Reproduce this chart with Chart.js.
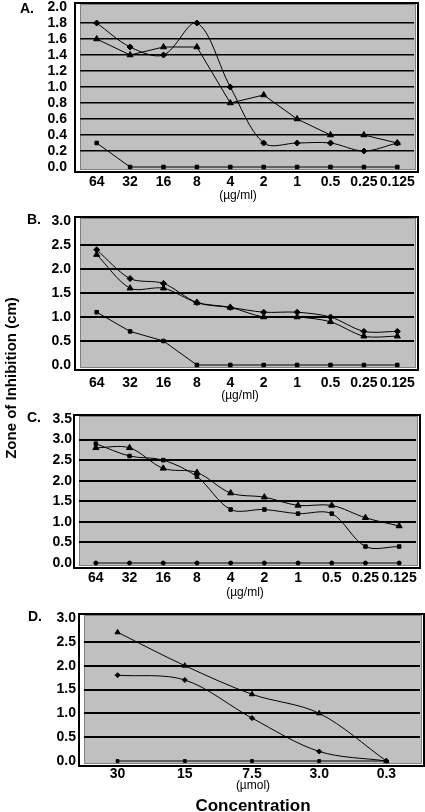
<!DOCTYPE html>
<html>
<head>
<meta charset="utf-8">
<script src="https://cdn.jsdelivr.net/npm/chart.js@4.4.0/dist/chart.umd.min.js"></script>
<style>
  html, body { margin: 0; padding: 0; background: #fff; }
  body { position: relative; width: 425px; height: 812px; overflow: hidden; font-family: "Liberation Sans", Arial, sans-serif; }
  canvas { position: absolute; left: 0; }
  .t { position: absolute; color: #000; white-space: nowrap; line-height: 1; transform: translate(-50%, -50%); }
  .b { font-weight: bold; }
  .lbl { position: absolute; font-weight: bold; font-size: 14px; line-height: 1; transform: translateY(-50%); }
</style>
</head>
<body>
<canvas id="chartA" width="425" height="200" style="top:0px"></canvas>
<canvas id="chartB" width="425" height="200" style="top:200px"></canvas>
<canvas id="chartC" width="425" height="200" style="top:400px"></canvas>
<canvas id="chartD" width="425" height="212" style="top:600px"></canvas>

<div class="lbl" style="left:20px;top:8px">A.</div>
<div class="lbl" style="left:27px;top:219px">B.</div>
<div class="lbl" style="left:27px;top:417px">C.</div>
<div class="lbl" style="left:28px;top:616px">D.</div>
<div class="t" style="left:238px;top:195px;font-size:12px">(µg/ml)</div>
<div class="t" style="left:240px;top:395px;font-size:12px">(µg/ml)</div>
<div class="t" style="left:245px;top:592px;font-size:12px">(µg/ml)</div>
<div class="t" style="left:253px;top:785px;font-size:12px">(µmol)</div>
<div class="t b" style="left:253px;top:805px;font-size:17px">Concentration</div>
<div class="t b" style="left:10px;top:378px;font-size:15px;transform:translate(-50%,-50%) rotate(-90deg)">Zone of Inhibition (cm)</div>

<script>
// x categories
var doseLabels = ["64", "32", "16", "8", "4", "2", "1", "0.5", "0.25", "0.125"];
var molLabels = ["30", "15", "7.5", "3.0", "0.3"];

// panel A
var aDiamond = [1.8, 1.5, 1.4, 1.8, 1.0, 0.3, 0.3, 0.3, 0.2, 0.3];
var aTriangle = [1.6, 1.4, 1.5, 1.5, 0.8, 0.9, 0.6, 0.4, 0.4, 0.3];
var aSquare = [0.3, 0, 0, 0, 0, 0, 0, 0, 0, 0];

// panel B
var bDiamond = [2.4, 1.8, 1.7, 1.3, 1.2, 1.1, 1.1, 1.0, 0.7, 0.7];
var bTriangle = [2.3, 1.6, 1.6, 1.3, 1.2, 1.0, 1.0, 0.9, 0.6, 0.6];
var bSquare = [1.1, 0.7, 0.5, 0, 0, 0, 0, 0, 0, 0];

// panel C
var cSquare = [2.9, 2.6, 2.5, 2.1, 1.3, 1.3, 1.2, 1.2, 0.4, 0.4];
var cTriangle = [2.8, 2.8, 2.3, 2.2, 1.7, 1.6, 1.4, 1.4, 1.1, 0.9];
var cZero = [0, 0, 0, 0, 0, 0, 0, 0, 0, 0];

// panel D
var dTriangle = [2.7, 2.0, 1.4, 1.0, 0];
var dDiamond = [1.8, 1.7, 0.9, 0.2, 0];
var dZero = [0, 0, 0, 0, 0];

var FONT = "'Liberation Sans', Arial, sans-serif";

// grey plot box with a black outer frame
var framePlugin = {
  id: 'frame',
  beforeDraw: function (chart) {
    var a = chart.chartArea, c = chart.ctx;
    c.save();
    c.fillStyle = '#c0c0c0';
    c.fillRect(a.left + 1, a.top - 2, a.right - a.left, a.bottom - a.top + 4);
    c.strokeStyle = '#808080';
    c.lineWidth = 1;
    c.strokeRect(a.left + 0.5, a.top - 2.5, a.right - a.left + 1, a.bottom - a.top + 5);
    c.strokeStyle = '#000';
    c.lineWidth = 2;
    c.strokeRect(a.left - 5, a.top - 4, a.right - a.left + 9, a.bottom - a.top + 9);
    c.restore();
  }
};

function series(data, style, radius, tension) {
  return {
    data: data,
    borderColor: '#000',
    backgroundColor: '#000',
    borderWidth: 1,
    pointStyle: style,
    pointRadius: radius,
    pointBorderWidth: 1,
    tension: tension,
    clip: false
  };
}

function makeChart(id, p) {
  var canvas = document.getElementById(id);
  var top = parseInt(canvas.style.top, 10);
  var h = canvas.height;
  return new Chart(canvas.getContext('2d'), {
    type: 'line',
    data: { labels: p.labels, datasets: p.datasets },
    plugins: [framePlugin],
    options: {
      responsive: false,
      animation: false,
      layout: { padding: { left: 0, top: p.area[1] - top, right: 425 - p.area[2], bottom: 0 } },
      plugins: { legend: { display: false }, tooltip: { enabled: false } },
      scales: {
        x: {
          offset: true,
          afterFit: function (s) { s.height = top + h - p.area[3]; s.paddingLeft = 0; s.paddingRight = 0; },
          grid: { display: false, drawTicks: false },
          border: { display: false },
          ticks: { padding: p.xPad, color: '#000', autoSkip: false, maxRotation: 0,
                   font: { family: FONT, size: 14, weight: 'bold' } }
        },
        y: {
          min: 0,
          max: p.max,
          afterFit: function (s) { s.width = p.area[0]; s.paddingTop = 0; s.paddingBottom = 0; },
          grid: {
            drawTicks: false,
            lineWidth: p.gridW,
            color: function (ctx) {
              var v = ctx.tick.value;
              return (v <= 0 || v >= p.max - 1e-6) ? 'rgba(0,0,0,0)' : '#000';
            }
          },
          border: { display: false },
          ticks: { stepSize: p.step, autoSkip: false, padding: p.yPad, color: '#000',
                   font: { family: FONT, size: 14, weight: 'bold' },
                   callback: function (v) { return v.toFixed(1); } }
        }
      }
    }
  });
}

makeChart('chartA', {
  labels: doseLabels, area: [80, 7, 414, 167], max: 2.0, step: 0.2, gridW: 1.5, xPad: 7, yPad: 13,
  datasets: [series(aDiamond, 'rectRot', 3, 0.33), series(aTriangle, 'triangle', 3.5, 0), series(aSquare, 'rect', 2.5, 0)]
});
makeChart('chartB', {
  labels: doseLabels, area: [80, 221, 414, 365], max: 3.0, step: 0.5, gridW: 2, xPad: 10, yPad: 9,
  datasets: [series(bDiamond, 'rectRot', 3, 0.3), series(bTriangle, 'triangle', 3.5, 0.3), series(bSquare, 'rect', 2.5, 0)]
});
makeChart('chartC', {
  labels: doseLabels, area: [79, 419, 416, 563], max: 3.5, step: 0.5, gridW: 2, xPad: 7, yPad: 7,
  datasets: [series(cSquare, 'rect', 2.5, 0.33), series(cTriangle, 'triangle', 3.5, 0.33), series(cZero, 'circle', 2, 0)]
});
makeChart('chartD', {
  labels: molLabels, area: [84, 618, 420, 761], max: 3.0, step: 0.5, gridW: 2, xPad: 5, yPad: 8,
  datasets: [series(dTriangle, 'triangle', 3, 0.33), series(dDiamond, 'rectRot', 2.5, 0.33), series(dZero, 'rect', 2, 0)]
});
</script>
</body>
</html>
